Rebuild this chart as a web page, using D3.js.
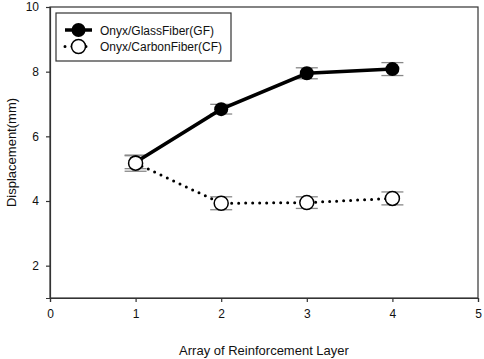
<!DOCTYPE html>
<html><head><meta charset="utf-8">
<script src="https://cdn.jsdelivr.net/npm/d3@7"></script>
<style>body{margin:0;background:#fff}svg{display:block}text{font-family:"Liberation Sans",Arial,sans-serif;fill:#111}</style>
</head><body><svg id="c" width="484" height="359"></svg>
<script>
const layers = [1, 2, 3, 4];
const gfValues = [5.2, 6.84, 7.95, 8.08];
const gfErrors = [0.2, 0.15, 0.17, 0.2];
const cfValues = [5.17, 3.93, 3.95, 4.08];
const cfErrors = [0.25, 0.2, 0.18, 0.2];
const xTicks = [0, 1, 2, 3, 4, 5];
const yTicks = [2, 4, 6, 8, 10];
const seriesNames = ["Onyx/GlassFiber(GF)", "Onyx/CarbonFiber(CF)"];

const svg = d3.select("#c");
const m = {l: 50, r: 6, t: 7, b: 61};
const W = 484, H = 359;
const x = d3.scaleLinear().domain([0, 5]).range([m.l, W - m.r]);
const y = d3.scaleLinear().domain([1, 10]).range([H - m.b, m.t]);

// frame
svg.append("rect").attr("x", m.l).attr("y", m.t).attr("width", W - m.r - m.l).attr("height", H - m.b - m.t)
  .attr("fill", "none").attr("stroke", "#333").attr("stroke-width", 1.2);

const xa = svg.append("g").attr("transform", `translate(0,${H - m.b})`)
  .call(d3.axisBottom(x).tickValues(xTicks).tickFormat(d3.format("d")).tickSize(4).tickPadding(7));
const ya = svg.append("g").attr("transform", `translate(${m.l},0)`)
  .call(d3.axisLeft(y).tickValues(yTicks).tickFormat(d3.format("d")).tickSize(4).tickPadding(7));
[xa, ya].forEach(a => {
  a.select(".domain").attr("stroke", "#333").attr("stroke-width", 1.2);
  a.selectAll(".tick line").attr("stroke", "#333").attr("stroke-width", 1.2);
  a.selectAll(".tick text").style("font-size", "12px").attr("fill", "#111")
    .style("font-family", '"Liberation Sans",Arial,sans-serif');
});

svg.append("text").attr("x", x(2.5)).attr("y", 355).attr("text-anchor", "middle")
  .style("font-size", "13px").text("Array of Reinforcement Layer");
svg.append("text").attr("transform", `translate(16,${(y(1) + y(10)) / 2}) rotate(-90)`)
  .attr("text-anchor", "middle").style("font-size", "13px").text("Displacement(mm)");

function errorBars(vals, errs) {
  const g = svg.append("g").attr("stroke", "#888").attr("stroke-width", 1.3);
  layers.forEach((L, i) => {
    const cx = x(L);
    g.append("line").attr("x1", cx).attr("x2", cx).attr("y1", y(vals[i] + errs[i])).attr("y2", y(vals[i] - errs[i]));
    [vals[i] + errs[i], vals[i] - errs[i]].forEach(v =>
      g.append("line").attr("x1", cx - 11).attr("x2", cx + 11).attr("y1", y(v)).attr("y2", y(v)));
  });
}
errorBars(gfValues, gfErrors);
errorBars(cfValues, cfErrors);

const line = d3.line().x((d, i) => x(layers[i])).y(d => y(d));
svg.append("path").datum(gfValues).attr("d", line).attr("fill", "none").attr("stroke", "#000").attr("stroke-width", 3.5);
svg.append("path").datum(cfValues).attr("d", line).attr("fill", "none").attr("stroke", "#000")
  .attr("stroke-width", 3).attr("stroke-dasharray", "0,7").attr("stroke-linecap", "round");

svg.selectAll(".gf").data(gfValues).enter().append("circle")
  .attr("cx", (d, i) => x(layers[i])).attr("cy", d => y(d)).attr("r", 7).attr("fill", "#000");
svg.selectAll(".cf").data(cfValues).enter().append("circle")
  .attr("cx", (d, i) => x(layers[i])).attr("cy", d => y(d)).attr("r", 7)
  .attr("fill", "#fff").attr("stroke", "#000").attr("stroke-width", 1.5);

// legend
const lg = svg.append("g");
lg.append("rect").attr("x", 56).attr("y", 13).attr("width", 175).attr("height", 48)
  .attr("fill", "#fff").attr("stroke", "#333").attr("stroke-width", 1.2);
const rows = [30, 46.5];
lg.append("line").attr("x1", 65).attr("x2", 92).attr("y1", rows[0]).attr("y2", rows[0]).attr("stroke", "#000").attr("stroke-width", 3.5);
lg.append("circle").attr("cx", 78.5).attr("cy", rows[0]).attr("r", 7).attr("fill", "#000");
lg.append("line").attr("x1", 65).attr("x2", 93).attr("y1", rows[1]).attr("y2", rows[1]).attr("stroke", "#000")
  .attr("stroke-width", 3).attr("stroke-dasharray", "0,7").attr("stroke-linecap", "round");
lg.append("circle").attr("cx", 78.5).attr("cy", rows[1]).attr("r", 7).attr("fill", "#fff").attr("stroke", "#000").attr("stroke-width", 1.5);
seriesNames.forEach((n, i) => lg.append("text").attr("x", 100).attr("y", rows[i] + 4.5).style("font-size", "12px").text(n));
</script></body></html>
